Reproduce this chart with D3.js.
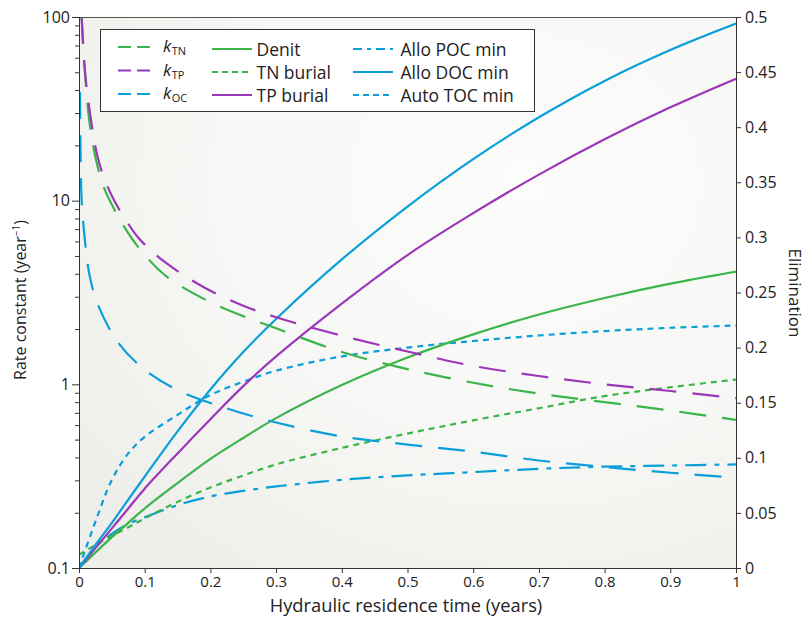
<!DOCTYPE html>
<html>
<head>
<meta charset="utf-8">
<script src="https://cdn.jsdelivr.net/npm/d3@7/dist/d3.min.js"></script>
<style>
  html, body { margin: 0; padding: 0; background: #ffffff; }
  svg { display: block; font-family: "Open Sans", Lato, sans-serif; }
</style>
</head>
<body>
<svg id="chart" width="807" height="618"></svg>
<script>
// ---------------- DATA ----------------
// Hydraulic residence time (years) for elimination curves (right axis)
const timeElim = [0, 0.025, 0.05, 0.075, 0.1, 0.15, 0.2, 0.25, 0.3, 0.4, 0.5, 0.6, 0.7, 0.8, 0.9, 1.0];
const denit      = [0, 0.014, 0.028, 0.041, 0.054, 0.077, 0.099, 0.118, 0.136, 0.166, 0.191, 0.212, 0.230, 0.245, 0.258, 0.269];
const tnBurial   = [0.012, 0.021, 0.029, 0.037, 0.045, 0.060, 0.073, 0.084, 0.094, 0.109, 0.122, 0.134, 0.145, 0.156, 0.164, 0.171];
const tpBurial   = [0, 0.018, 0.036, 0.054, 0.072, 0.104, 0.135, 0.165, 0.192, 0.240, 0.284, 0.322, 0.357, 0.389, 0.418, 0.444];
const alloPOC    = [0, 0.019, 0.031, 0.040, 0.046, 0.057, 0.065, 0.070, 0.074, 0.080, 0.084, 0.087, 0.090, 0.092, 0.093, 0.094];
const alloDOC    = [0, 0.021, 0.041, 0.062, 0.083, 0.124, 0.162, 0.196, 0.226, 0.280, 0.328, 0.371, 0.409, 0.442, 0.470, 0.494];
const autoTOC    = [0, 0.042, 0.080, 0.104, 0.119, 0.139, 0.157, 0.169, 0.179, 0.192, 0.200, 0.206, 0.211, 0.215, 0.218, 0.220];

// Rate constants (year^-1, left log axis)
const timeK = [0.004, 0.009, 0.017, 0.028, 0.04, 0.055, 0.07, 0.09, 0.13, 0.19, 0.25, 0.3, 0.4, 0.5, 0.6, 0.7, 0.8, 0.9, 1.0];
const kTN   = [100, 50, 25, 15.5, 11.3, 8.8, 7.1, 5.6, 3.95, 2.92, 2.35, 2.02, 1.50, 1.21, 1.02, 0.89, 0.80, 0.72, 0.64];
const kTP   = [100, 51, 29.5, 17.5, 12.8, 9.8, 8.0, 6.3, 4.65, 3.38, 2.68, 2.32, 1.84, 1.51, 1.26, 1.11, 1.00, 0.92, 0.84];
const timeKOC = [0.0015, 0.0023, 0.004, 0.008, 0.016, 0.029, 0.06, 0.1, 0.15, 0.22, 0.3, 0.4, 0.5, 0.6, 0.7, 0.8, 0.9, 1.0];
const kOC     = [39, 18.8, 10.1, 6.6, 3.94, 2.70, 1.68, 1.20, 0.93, 0.75, 0.62, 0.52, 0.47, 0.43, 0.385, 0.355, 0.33, 0.31];

// Ticks
const xTicks = [0, 0.1, 0.2, 0.3, 0.4, 0.5, 0.6, 0.7, 0.8, 0.9, 1];
const xTickLabels = ["0", "0.1", "0.2", "0.3", "0.4", "0.5", "0.6", "0.7", "0.8", "0.9", "1"];
const leftTicks = [0.1, 1, 10, 100];
const leftTickLabels = ["0.1", "1", "10", "100"];
const rightTicks = [0, 0.05, 0.1, 0.15, 0.2, 0.25, 0.3, 0.35, 0.4, 0.45, 0.5];
const rightTickLabels = ["0", "0.05", "0.1", "0.15", "0.2", "0.25", "0.3", "0.35", "0.4", "0.45", "0.5"];

// ---------------- STYLE ----------------
const GREEN = "#3bb44a", PURPLE = "#9b37b8", BLUE = "#0a9fd8";
const DASH = "27,16", DOT = "6,5", DASHDOT = "21,8,5,8";

const L = 79, R = 736, T = 17, B = 568;

const svg = d3.select("#chart");
const x = d3.scaleLinear().domain([0, 1]).range([L, R]);
const yL = d3.scaleLog().domain([0.1, 100]).range([B, T]);
const yR = d3.scaleLinear().domain([0, 0.5]).range([B, T]);

// background gradient
const defs = svg.append("defs");
const grad = defs.append("radialGradient").attr("id", "bg")
  .attr("cx", "68%").attr("cy", "30%").attr("r", "85%");
grad.append("stop").attr("offset", "0%").attr("stop-color", "#fcfcfb");
grad.append("stop").attr("offset", "55%").attr("stop-color", "#f7f7f5");
grad.append("stop").attr("offset", "100%").attr("stop-color", "#eeeeea");
defs.append("clipPath").attr("id", "clip").append("rect")
  .attr("x", L).attr("y", T).attr("width", R - L).attr("height", B - T);

svg.append("rect").attr("x", L).attr("y", T).attr("width", R - L).attr("height", B - T)
  .attr("fill", "url(#bg)");

// series
const plot = svg.append("g").attr("clip-path", "url(#clip)");
function drawSeries(times, vals, yScale, color, dash) {
  const data = times.map((t, i) => [t, vals[i]]);
  const line = d3.line().x(d => x(d[0])).y(d => yScale(d[1])).curve(d3.curveCatmullRom.alpha(0.5));
  plot.append("path").datum(data).attr("d", line)
    .attr("fill", "none").attr("stroke", color).attr("stroke-width", 2.2)
    .attr("stroke-dasharray", dash || null);
}
drawSeries(timeElim, alloPOC, yR, BLUE, DASHDOT);
drawSeries(timeElim, tnBurial, yR, GREEN, DOT);
drawSeries(timeElim, autoTOC, yR, BLUE, DOT);
drawSeries(timeElim, denit, yR, GREEN, null);
drawSeries(timeElim, tpBurial, yR, PURPLE, null);
drawSeries(timeElim, alloDOC, yR, BLUE, null);
drawSeries(timeKOC, kOC, yL, BLUE, DASH);
drawSeries(timeK, kTN, yL, GREEN, DASH);
drawSeries(timeK, kTP, yL, PURPLE, DASH);

// frame top
svg.append("line").attr("x1", L).attr("x2", R).attr("y1", T + 0.5).attr("y2", T + 0.5)
  .attr("stroke", "#555").attr("stroke-width", 1);

// bottom axis
const xAxis = d3.axisBottom(x).tickValues(xTicks).tickSize(5).tickPadding(3)
  .tickFormat((d, i) => xTickLabels[i]);
const gx = svg.append("g").attr("transform", `translate(0,${B})`).call(xAxis);
gx.selectAll(".tick text").attr("font-size", 15);
// left axis
const minorVals = [];
[0.1, 1, 10].forEach(b => { for (let m = 2; m <= 9; m++) minorVals.push(b * m); });
svg.append("g").attr("transform", `translate(${L},0)`)
  .call(d3.axisLeft(yL).tickValues(minorVals).tickSize(4).tickFormat(""));
const gl = svg.append("g").attr("transform", `translate(${L},0)`)
  .call(d3.axisLeft(yL).tickValues(leftTicks).tickSize(7).tickPadding(2)
    .tickFormat((d, i) => leftTickLabels[i]));
gl.selectAll(".tick text").attr("font-size", 16);
// right axis
const gr = svg.append("g").attr("transform", `translate(${R},0)`)
  .call(d3.axisRight(yR).tickValues(rightTicks).tickSize(5).tickPadding(4)
    .tickFormat((d, i) => rightTickLabels[i]));
gr.selectAll(".tick text").attr("font-size", 16);

svg.selectAll(".domain").attr("stroke", "#333");
svg.selectAll(".tick line").attr("stroke", "#333");
svg.selectAll(".tick text").attr("fill", "#222").attr("font-family", "'Open Sans', sans-serif");

// axis titles
svg.append("text").attr("x", 406).attr("y", 612).attr("text-anchor", "middle")
  .attr("font-size", 18.3).attr("fill", "#222").text("Hydraulic residence time (years)");
const lt = svg.append("text").attr("transform", "translate(26,300) rotate(-90)")
  .attr("text-anchor", "middle").attr("font-size", 16).attr("fill", "#222");
lt.append("tspan").text("Rate constant (year");
lt.append("tspan").attr("dy", -6).attr("font-size", 10).text("−1");
lt.append("tspan").attr("dy", 6).text(")");
svg.append("text").attr("transform", "translate(789,293) rotate(90)")
  .attr("text-anchor", "middle").attr("font-size", 17).attr("fill", "#222").text("Elimination");

// legend
const LEGEND_FONT = "'Open Sans', Lato, sans-serif";
const lg = svg.append("g");
lg.append("rect").attr("x", 100.5).attr("y", 29.5).attr("width", 434).attr("height", 82)
  .attr("fill", "#ffffff").attr("stroke", "#333").attr("stroke-width", 1);
const rowsK = [47, 70.5, 94];
const rows = [49, 72, 95];
const legendK = [
  { sub: "TN", color: GREEN }, { sub: "TP", color: PURPLE }, { sub: "OC", color: BLUE }
];
legendK.forEach((d, i) => {
  lg.append("line").attr("x1", 118).attr("x2", 150).attr("y1", rowsK[i]).attr("y2", rowsK[i])
    .attr("stroke", d.color).attr("stroke-width", 2.2).attr("stroke-dasharray", "13,6");
  const t = lg.append("text").attr("x", 163).attr("y", rowsK[i] + 5).attr("font-size", 17)
    .attr("font-family", LEGEND_FONT).attr("fill", "#222");
  t.append("tspan").attr("font-style", "italic").text("k");
  t.append("tspan").attr("dy", 3).attr("dx", 0.5).attr("font-size", 11).text(d.sub);
});
const legend2 = [
  { label: "Denit", color: GREEN, dash: null },
  { label: "TN burial", color: GREEN, dash: "6,4" },
  { label: "TP burial", color: PURPLE, dash: null }
];
legend2.forEach((d, i) => {
  lg.append("line").attr("x1", 212).attr("x2", 252).attr("y1", rows[i]).attr("y2", rows[i])
    .attr("stroke", d.color).attr("stroke-width", 2.2).attr("stroke-dasharray", d.dash);
  lg.append("text").attr("x", 256.5).attr("y", rows[i] + 6.5).attr("font-size", 17.5)
    .attr("font-family", LEGEND_FONT).attr("fill", "#222").text(d.label);
});
const legend3 = [
  { label: "Allo POC min", color: BLUE, dash: "9,5,4,5" },
  { label: "Allo DOC min", color: BLUE, dash: null },
  { label: "Auto TOC min", color: BLUE, dash: "6,4" }
];
legend3.forEach((d, i) => {
  lg.append("line").attr("x1", 353).attr("x2", 393).attr("y1", rows[i]).attr("y2", rows[i])
    .attr("stroke", d.color).attr("stroke-width", 2.2).attr("stroke-dasharray", d.dash);
  lg.append("text").attr("x", 400.5).attr("y", rows[i] + 6.5).attr("font-size", 17.5)
    .attr("font-family", LEGEND_FONT).attr("fill", "#222").text(d.label);
});
</script>
</body>
</html>
